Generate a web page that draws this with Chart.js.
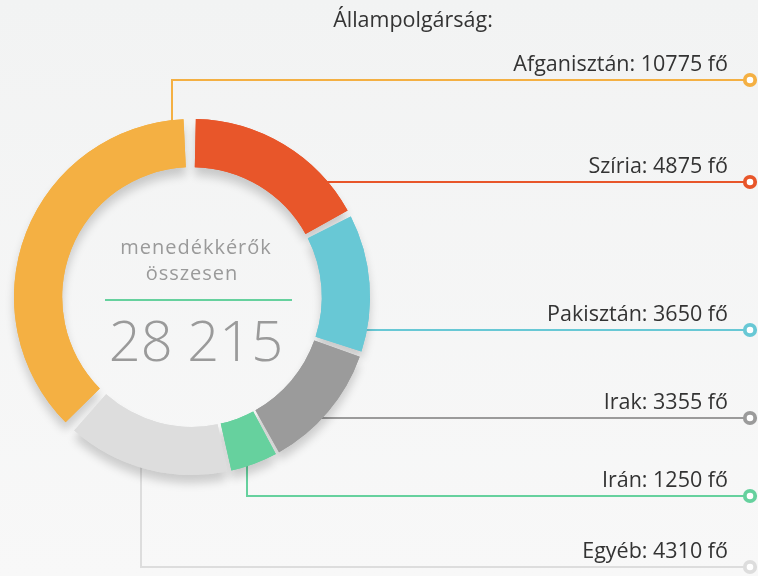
<!DOCTYPE html>
<html>
<head>
<meta charset="utf-8">
<script src="https://cdn.jsdelivr.net/npm/chart.js@4.4.0/dist/chart.umd.min.js"></script>
<style>
  html, body { margin: 0; padding: 0; }
  body { width: 758px; height: 576px; background: linear-gradient(#f2f3f3, #f8f8f8); overflow: hidden; }
  #wrap { position: relative; width: 758px; height: 576px; }
</style>
</head>
<body>
<div id="wrap"><canvas id="chart" width="758" height="576"></canvas></div>
<script>
// --- adatok ---
const title = 'Állampolgárság:';
const countries = ['Afganisztán', 'Szíria', 'Pakisztán', 'Irak', 'Irán', 'Egyéb'];
const counts = [10775, 4875, 3650, 3355, 1250, 4310];
const colors = ['#f4b043', '#e8562a', '#68c8d5', '#9b9b9b', '#66d19e', '#dddddd'];
const centerLabel = ['menedékkérők', 'összesen'];
const totalLabel = '28 215';

const total = counts.reduce((a, b) => a + b, 0);

// vezető vonalak elrendezése: 'h' = vízszintes a gyűrű szélétől, 'up'/'down' = függőleges szakasz x-nél
const leaders = [
    { type: 'up', x: 172, y: 80 },
    { type: 'h', y: 182 },
    { type: 'h', y: 330 },
    { type: 'h', y: 418 },
    { type: 'down', x: 247, y: 496 },
    { type: 'down', x: 141, y: 567 }
];
const markerX = 750;
const textRight = 728;

const shadowPlugin = {
    id: 'ringShadow',
    beforeDatasetsDraw(chart) {
        const ctx = chart.ctx;
        const meta = chart.getDatasetMeta(0);
        const arc = meta.data[0];
        const cx = arc.x, cy = arc.y, R = arc.outerRadius;

        // vonalak a gyűrű alatt
        ctx.save();
        ctx.lineWidth = 2;
        leaders.forEach((l, i) => {
            ctx.strokeStyle = colors[i];
            ctx.beginPath();
            if (l.type === 'h') {
                const dx = Math.sqrt(R * R - (l.y - cy) * (l.y - cy));
                ctx.moveTo(cx + dx - 6, l.y);
                ctx.lineTo(markerX, l.y);
            } else {
                const dy = Math.sqrt(R * R - (l.x - cx) * (l.x - cx));
                const y0 = l.type === 'up' ? cy - dy + 6 : cy + dy - 6;
                ctx.moveTo(l.x, y0);
                ctx.lineTo(l.x, l.y);
                ctx.lineTo(markerX, l.y);
            }
            ctx.stroke();
        });
        ctx.restore();

        // árnyék
        ctx.save();
        ctx.shadowColor = 'rgba(0,0,0,0.18)';
        ctx.shadowBlur = 10;
        ctx.shadowOffsetX = 0;
        ctx.shadowOffsetY = 8;
        meta.data.forEach(a => a.draw(ctx));
        ctx.restore();
    },
    afterDraw(chart) {
        const ctx = chart.ctx;
        const arc = chart.getDatasetMeta(0).data[0];
        const cx = arc.x, cy = arc.y;

        ctx.save();
        // cím
        ctx.fillStyle = '#333';
        ctx.font = '21.5px "Open Sans"';
        ctx.textAlign = 'center';
        ctx.textBaseline = 'alphabetic';
        ctx.fillText(title, 413, 27);

        // címkék + jelölők
        ctx.textAlign = 'right';
        leaders.forEach((l, i) => {
            ctx.fillStyle = '#333';
            ctx.fillText(countries[i] + ': ' + counts[i] + ' fő', textRight, l.y - 9);
            ctx.beginPath();
            ctx.arc(markerX, l.y, 5.2, 0, Math.PI * 2);
            ctx.fillStyle = '#ffffff';
            ctx.fill();
            ctx.lineWidth = 3.8;
            ctx.strokeStyle = colors[i];
            ctx.stroke();
        });

        // középső szöveg
        ctx.textAlign = 'center';
        ctx.fillStyle = '#9a9a9a';
        ctx.font = '20px "Open Sans"';
        ctx.letterSpacing = '1px';
        ctx.fillText(centerLabel[0], cx + 4, 254);
        ctx.fillText(centerLabel[1], cx, 280);
        ctx.letterSpacing = '0px';

        ctx.strokeStyle = colors[4];
        ctx.lineWidth = 2;
        ctx.beginPath();
        ctx.moveTo(105, 300);
        ctx.lineTo(292, 300);
        ctx.stroke();

        ctx.fillStyle = '#9a9a9a';
        ctx.font = '300 56px "Open Sans"';
        ctx.fillText(totalLabel, cx + 4, 361);
        ctx.restore();
    }
};

new Chart(document.getElementById('chart'), {
    type: 'doughnut',
    data: {
        labels: countries,
        datasets: [{
            data: counts,
            backgroundColor: colors,
            borderWidth: 0,
            spacing: 12
        }]
    },
    options: {
        responsive: false,
        animation: false,
        cutout: '72%',
        rotation: -counts[0] / total * 360,
        layout: { padding: { left: 14, right: 388, top: 119, bottom: 101 } },
        plugins: {
            legend: { display: false },
            tooltip: { enabled: false }
        },
        events: []
    },
    plugins: [shadowPlugin]
});
</script>
</body>
</html>
